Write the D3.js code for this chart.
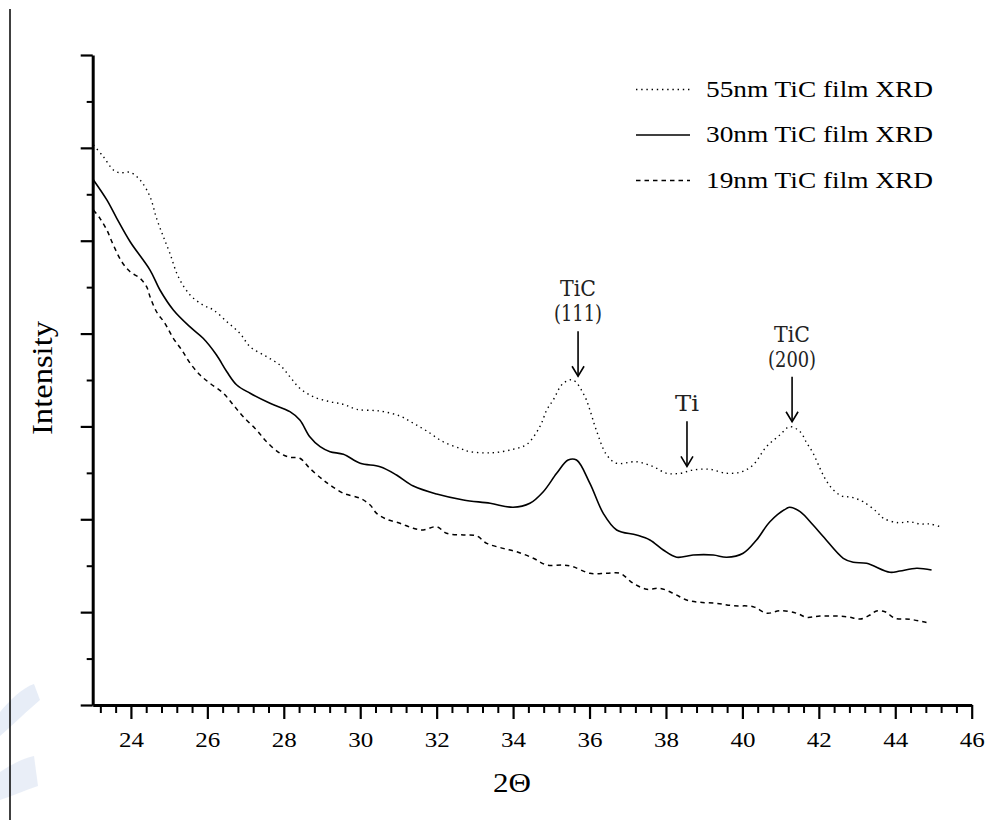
<!DOCTYPE html>
<html>
<head>
<meta charset="utf-8">
<script src="https://cdn.jsdelivr.net/npm/d3@7"></script>
<style>
  html, body { margin: 0; padding: 0; background: #fff; }
  svg { display: block; }
</style>
</head>
<body>
<svg id="chart" width="987" height="820"></svg>
<script>
// ---------------- DATA ----------------
const xMajorTicks = [24, 26, 28, 30, 32, 34, 36, 38, 40, 42, 44, 46];
const legendLabels = ["55nm TiC film XRD", "30nm TiC film XRD", "19nm TiC film XRD"];
const annotations = [
  { lines: ["TiC", "(111)"], x: 35.7, y: 3.54 },
  { lines: ["Ti"], x: 38.55, y: 2.57 },
  { lines: ["TiC", "(200)"], x: 41.3, y: 3.05 }
];
const xLabel = "2\u0398";
const yLabel = "Intensity";

const film55 = [
  [23.02,6.030],[23.28,5.905],[23.54,5.762],[23.71,5.732],[23.98,5.736],[24.24,5.654],
  [24.50,5.474],[24.67,5.241],[24.85,5.043],[25.02,4.864],[25.24,4.612],[25.55,4.415],
  [25.89,4.307],[26.16,4.254],[26.51,4.128],[26.85,4.003],[27.12,3.858],[27.55,3.751],
  [27.90,3.661],[28.16,3.535],[28.42,3.411],[28.77,3.320],[29.21,3.266],[29.56,3.238],
  [29.91,3.184],[30.52,3.166],[31.04,3.112],[31.39,3.034],[31.74,2.951],[32.17,2.835],
  [32.61,2.764],[32.87,2.728],[33.48,2.717],[34.00,2.754],[34.36,2.807],[34.70,2.997],
  [34.88,3.177],[35.05,3.285],[35.31,3.464],[35.57,3.500],[35.88,3.320],[36.01,3.177],
  [36.17,2.969],[36.45,2.692],[36.71,2.603],[37.23,2.620],[37.67,2.566],[38.02,2.495],
  [38.37,2.495],[38.71,2.531],[39.15,2.538],[39.59,2.495],[39.98,2.512],[40.28,2.585],
  [40.63,2.782],[40.98,2.908],[41.24,2.997],[41.51,2.943],[41.68,2.825],[41.85,2.711],
  [42.03,2.549],[42.16,2.441],[42.34,2.334],[42.60,2.251],[42.86,2.237],[43.16,2.189],
  [43.51,2.082],[43.69,2.011],[44.08,1.963],[44.38,1.974],[44.65,1.949],[44.91,1.949],
  [45.17,1.920]
];
const film30 = [
  [23.02,5.654],[23.37,5.439],[23.63,5.241],[23.98,4.989],[24.50,4.684],[24.76,4.469],
  [25.11,4.254],[25.54,4.074],[25.89,3.949],[26.24,3.769],[26.51,3.589],[26.77,3.446],
  [27.12,3.357],[27.64,3.249],[28.16,3.159],[28.42,3.069],[28.68,2.889],[28.95,2.782],
  [29.21,2.728],[29.56,2.700],[30.00,2.603],[30.52,2.566],[30.95,2.477],[31.39,2.358],
  [32.00,2.272],[32.70,2.208],[33.40,2.172],[34.00,2.129],[34.44,2.172],[34.79,2.297],
  [35.14,2.495],[35.44,2.638],[35.66,2.638],[36.01,2.387],[36.36,2.064],[36.71,1.885],
  [37.23,1.831],[37.58,1.777],[37.93,1.669],[38.28,1.591],[38.71,1.615],[39.24,1.615],
  [39.59,1.591],[40.02,1.634],[40.37,1.777],[40.72,1.974],[41.16,2.118],[41.24,2.129],
  [41.51,2.082],[41.85,1.938],[42.12,1.812],[42.64,1.580],[42.90,1.537],[43.25,1.526],
  [43.86,1.429],[44.12,1.443],[44.56,1.472],[44.95,1.454]
];
const film19 = [
  [23.02,5.331],[23.19,5.241],[23.37,5.115],[23.54,4.954],[23.76,4.774],[23.98,4.666],
  [24.24,4.595],[24.41,4.505],[24.50,4.397],[24.67,4.235],[24.89,4.110],[25.11,3.949],
  [25.33,3.823],[25.55,3.680],[25.81,3.554],[26.07,3.464],[26.42,3.357],[26.68,3.231],
  [26.94,3.105],[27.29,2.961],[27.55,2.835],[27.90,2.711],[28.16,2.667],[28.42,2.657],
  [28.68,2.549],[29.03,2.423],[29.21,2.369],[29.56,2.280],[30.00,2.226],[30.26,2.154],
  [30.43,2.064],[30.69,2.000],[31.04,1.957],[31.39,1.903],[31.65,1.885],[32.00,1.920],
  [32.26,1.849],[32.70,1.831],[33.05,1.820],[33.31,1.741],[33.74,1.687],[34.09,1.651],
  [34.53,1.580],[34.88,1.508],[35.31,1.508],[35.57,1.489],[36.01,1.418],[36.45,1.418],
  [36.80,1.418],[37.14,1.311],[37.50,1.246],[37.84,1.257],[38.19,1.203],[38.54,1.131],
  [38.89,1.106],[39.33,1.095],[39.76,1.069],[40.28,1.059],[40.64,0.988],[40.98,1.016],
  [41.42,0.988],[41.68,0.944],[42.03,0.958],[42.73,0.951],[43.08,0.926],[43.34,0.969],
  [43.51,1.012],[43.73,1.005],[43.99,0.934],[44.38,0.923],[44.73,0.897],[44.91,0.880]
];

// ---------------- DRAW ----------------
const svg = d3.select("#chart");
const serif = "'Liberation Serif','Times New Roman',serif";
const annoFont = "'DejaVu Serif','Liberation Serif',serif";

const x = d3.scaleLinear().domain([23, 46]).range([92.7, 971.7]);
const y = d3.scaleLinear().domain([0, 7]).range([705, 55]);

// page decorations: left border line and faint watermark fragments
svg.append("path").attr("d", "M0,712 C10,700 22,688 34,684 L40,700 C28,710 14,724 0,736 Z")
  .attr("fill", "#d3def0").attr("opacity", 0.55);
svg.append("path").attr("d", "M0,772 C12,764 24,758 34,756 L38,786 C26,790 12,796 0,800 Z")
  .attr("fill", "#d3def0").attr("opacity", 0.5);
svg.append("line").attr("x1", 10).attr("x2", 10).attr("y1", 9).attr("y2", 820)
  .attr("stroke", "#000").attr("stroke-width", 1.5);

// x axis minor ticks
const xMinor = d3.range(23.2, 46, 0.4).map(v => +v.toFixed(1)).filter(v => Math.abs(v / 2 - Math.round(v / 2)) > 0.01);
const gxMinor = svg.append("g").attr("transform", "translate(0,705)")
  .call(d3.axisBottom(x).tickValues(xMinor).tickSize(8).tickSizeOuter(0).tickFormat(""));
gxMinor.select(".domain").remove();
gxMinor.selectAll(".tick line").attr("stroke", "#000").attr("stroke-width", 2);

// x axis major
const gx = svg.append("g").attr("transform", "translate(0,705)")
  .call(d3.axisBottom(x).tickValues(xMajorTicks).tickSize(14).tickSizeOuter(0).tickFormat(d3.format("d")));
gx.select(".domain").attr("stroke", "#000").attr("stroke-width", 3);
gx.selectAll(".tick line").attr("stroke", "#000").attr("stroke-width", 2.2);
gx.selectAll(".tick text")
  .attr("font-family", serif).attr("font-size", 22).attr("fill", "#000")
  .attr("y", 42).attr("dy", null)
  .attr("textLength", 25).attr("lengthAdjust", "spacingAndGlyphs");

// y axis
const yMajor = d3.range(0, 7.01, 1);
const yMinor = d3.range(0.5, 7, 1);
const gyMinor = svg.append("g").attr("transform", "translate(92.7,0)")
  .call(d3.axisLeft(y).tickValues(yMinor).tickSize(6).tickSizeOuter(0).tickFormat(""));
gyMinor.select(".domain").remove();
gyMinor.selectAll(".tick line").attr("stroke", "#000").attr("stroke-width", 2);
const gy = svg.append("g").attr("transform", "translate(92.7,0)")
  .call(d3.axisLeft(y).tickValues(yMajor).tickSize(12).tickSizeOuter(0).tickFormat(""));
gy.select(".domain").attr("stroke", "#000").attr("stroke-width", 3);
gy.selectAll(".tick line").attr("stroke", "#000").attr("stroke-width", 2.2);

// axis titles
svg.append("text").text(xLabel)
  .attr("x", 512).attr("y", 792).attr("text-anchor", "middle")
  .attr("font-family", serif).attr("font-size", 27).attr("fill", "#000")
  .attr("textLength", 38).attr("lengthAdjust", "spacingAndGlyphs");
svg.append("text").text(yLabel)
  .attr("transform", "translate(52,378) rotate(-90)")
  .attr("text-anchor", "middle")
  .attr("font-family", serif).attr("font-size", 29).attr("fill", "#000")
  .attr("textLength", 114).attr("lengthAdjust", "spacingAndGlyphs");

// series
const series = [
  { data: film55, dash: "1.4,3.8", width: 1.4 },
  { data: film30, dash: null, width: 1.6 },
  { data: film19, dash: "4.5,4", width: 1.5 }
];
const line = d3.line().x(d => x(d[0])).y(d => y(d[1])).curve(d3.curveCatmullRom.alpha(0.5));
series.forEach(s => {
  svg.append("path").datum(s.data)
    .attr("d", line)
    .attr("fill", "none").attr("stroke", "#000")
    .attr("stroke-width", s.width)
    .attr("stroke-dasharray", s.dash);
});

// legend
const legendY = [89.5, 135, 180.5];
series.forEach((s, i) => {
  svg.append("line").attr("x1", 636).attr("x2", 690)
    .attr("y1", legendY[i]).attr("y2", legendY[i])
    .attr("stroke", "#000").attr("stroke-width", s.width)
    .attr("stroke-dasharray", s.dash);
  svg.append("text").text(legendLabels[i])
    .attr("x", 706).attr("y", legendY[i] + 7)
    .attr("font-family", serif).attr("font-size", 24).attr("fill", "#000")
    .attr("textLength", 227).attr("lengthAdjust", "spacingAndGlyphs");
});

// annotations with arrows
annotations.forEach(a => {
  const ax = x(a.x);
  const tipY = y(a.y);
  const tailY = tipY - 45;
  svg.append("line").attr("x1", ax).attr("x2", ax).attr("y1", tailY).attr("y2", tipY)
    .attr("stroke", "#000").attr("stroke-width", 1.6);
  svg.append("path")
    .attr("d", `M${ax - 6},${tipY - 10} L${ax},${tipY} L${ax + 6},${tipY - 10}`)
    .attr("fill", "none").attr("stroke", "#000").attr("stroke-width", 1.6);
  const n = a.lines.length;
  a.lines.forEach((t, j) => {
    const base = tailY - 10 - (n - 1 - j) * 25;
    svg.append("text").text(t)
      .attr("x", ax).attr("y", base).attr("text-anchor", "middle")
      .attr("font-family", annoFont).attr("font-size", 22).attr("fill", "#222")
      .attr("textLength", t.startsWith("(") ? 48 : (t.length * 12))
      .attr("lengthAdjust", "spacingAndGlyphs");
  });
});
</script>
</body>
</html>
